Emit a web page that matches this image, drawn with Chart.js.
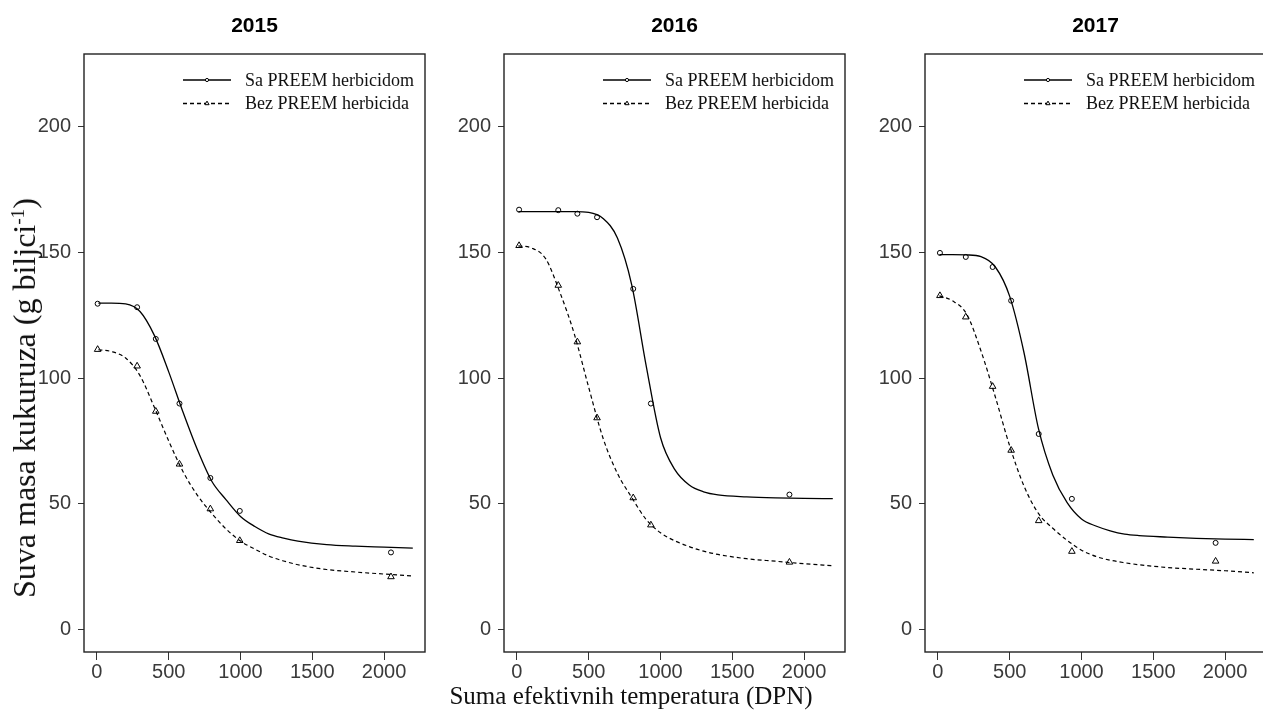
<!DOCTYPE html>
<html>
<head>
<meta charset="utf-8">
<script src="https://cdn.jsdelivr.net/npm/chart.js@4.4.1/dist/chart.umd.min.js"></script>
<style>
    html, body { margin: 0; padding: 0; background: #fff; overflow: hidden; }
    body { width: 1263px; height: 711px; position: relative; }
    .panel { position: absolute; top: 0; }
    .y-title {
        position: absolute; left: 24px; top: 398px;
        transform: translate(-50%, -50%) rotate(-90deg);
        white-space: nowrap; line-height: 1;
        font-family: "Liberation Serif", "Times New Roman", serif; font-size: 32px; color: #111;
    }
    .y-title sup { font-size: 60%; vertical-align: 0.55em; line-height: 0; }
    .x-title {
        position: absolute; left: 631px; top: 683px;
        transform: translateX(-50%);
        white-space: nowrap; line-height: 1;
        font-family: "Liberation Serif", "Times New Roman", serif; font-size: 25px; color: #111;
    }
</style>
</head>
<body>
<canvas class="panel" id="chart-2015" width="430" height="711" style="left:0px"></canvas>
<canvas class="panel" id="chart-2016" width="430" height="711" style="left:420px"></canvas>
<canvas class="panel" id="chart-2017" width="430" height="711" style="left:841px"></canvas>
<div class="y-title">Suva masa kukuruza (g biljci<sup>-1</sup>)</div>
<div class="x-title">Suma efektivnih temperatura (DPN)</div>
<script>
const years = ['2015', '2016', '2017'];
const seriesNames = ['Sa PREEM herbicidom', 'Bez PREEM herbicida'];
const xTicks = [0, 500, 1000, 1500, 2000];
const yTicks = [0, 50, 100, 150, 200];

// x positions of the fitted curves (same grid in every panel)
const fitX = [10, 100, 200, 300, 400, 500, 600, 700, 800, 900, 1000, 1100, 1200, 1300, 1400, 1600, 1800, 2000, 2200];

// 2015
const obsX2015 = [5, 280, 410, 575, 790, 995, 2048];
const saObs2015 = [129.6, 128.2, 115.6, 89.9, 60.3, 47.2, 30.7];
const bezObs2015 = [111.4, 104.8, 86.8, 65.8, 48.0, 35.4, 21.0];
const saFit2015 = [129.8, 129.8, 129.5, 126.5, 117.0, 102.5, 86.4, 71.5, 59.0, 51.6, 45.0, 41.0, 38.0, 36.4, 35.2, 33.8, 33.2, 32.8, 32.4];
const bezFit2015 = [111.3, 110.6, 108.0, 101.0, 88.4, 75.0, 62.8, 53.4, 46.2, 40.0, 35.2, 32.0, 29.2, 27.3, 25.8, 23.9, 22.9, 22.1, 21.3];

// 2016
const obsX2016 = [15, 288, 421, 558, 810, 933, 1898];
const saObs2016 = [167.0, 166.8, 165.4, 164.0, 135.5, 89.9, 53.7];
const bezObs2016 = [152.7, 136.9, 114.4, 84.2, 52.4, 41.6, 26.8];
const saFit2016 = [166.2, 166.2, 166.2, 166.2, 166.2, 165.9, 163.5, 155.7, 137.0, 105.0, 76.4, 63.6, 57.5, 54.8, 53.6, 52.8, 52.4, 52.2, 52.1];
const bezFit2016 = [152.6, 151.8, 147.5, 134.0, 117.5, 96.3, 76.1, 62.1, 52.5, 43.8, 38.5, 35.3, 33.0, 31.2, 29.9, 28.2, 27.2, 26.2, 25.4];

// 2017
const obsX2017 = [14, 194, 381, 510, 702, 933, 1934];
const saObs2017 = [149.8, 148.2, 144.2, 130.8, 77.8, 52.0, 34.5];
const bezObs2017 = [132.8, 124.3, 96.7, 71.3, 43.3, 31.1, 27.2];
const saFit2017 = [149.1, 149.1, 149.0, 148.3, 144.2, 132.5, 110.0, 80.0, 61.5, 50.5, 44.0, 41.2, 39.3, 38.0, 37.4, 36.8, 36.3, 36.0, 35.8];
const bezFit2017 = [132.7, 130.8, 125.5, 110.8, 92.5, 73.0, 57.0, 46.2, 40.3, 35.5, 31.6, 29.1, 27.6, 26.6, 25.8, 24.7, 24.0, 23.4, 22.6];

const tickFont = { family: '"Liberation Sans", Arial, sans-serif', size: 20 };
const tickColor = '#3a3a3a';
const axisColor = '#333';

// box around the plot, panel title and the in-panel legend
const panelFrame = {
    id: 'panelFrame',
    afterDraw(chart, args, opts) {
        const { ctx, chartArea: a } = chart;
        ctx.save();
        ctx.strokeStyle = '#222';
        ctx.lineWidth = 1.4;
        ctx.strokeRect(a.left, a.top, a.right - a.left, a.bottom - a.top);

        ctx.fillStyle = '#000';
        ctx.font = 'bold 21px "Liberation Sans", Arial, sans-serif';
        ctx.textAlign = 'center';
        ctx.textBaseline = 'middle';
        ctx.fillText(opts.title, (a.left + a.right) / 2, a.top - 28);

        ctx.font = '18px "Liberation Serif", "Times New Roman", serif';
        ctx.textAlign = 'left';
        const keys = [
            { dash: [], style: 'circle', radius: 1.6 },
            { dash: [4, 3], style: 'triangle', radius: 2.4 }
        ];
        seriesNames.forEach((name, i) => {
            const y = a.top + 26 + i * 23.5;
            const x0 = a.right - 242;
            ctx.strokeStyle = '#000';
            ctx.lineWidth = 1.5;
            ctx.setLineDash(keys[i].dash);
            ctx.beginPath();
            ctx.moveTo(x0, y);
            ctx.lineTo(x0 + 48, y);
            ctx.stroke();
            ctx.setLineDash([]);
            ctx.lineWidth = 1;
            ctx.fillStyle = '#fff';
            Chart.helpers.drawPoint(ctx, { pointStyle: keys[i].style, radius: keys[i].radius, borderWidth: 1, rotation: 0 }, x0 + 24, y);
            ctx.fillStyle = '#111';
            ctx.fillText(name, a.right - 180, y + 1);
        });
        ctx.restore();
    }
};

const toPoints = (xs, ys) => xs.map((x, i) => ({ x: x, y: ys[i] }));

function renderPanel(canvasId, year, obsX, saObs, bezObs, saFit, bezFit) {
    const canvasElement = document.getElementById(canvasId);

    new Chart(canvasElement, {
        type: 'line',
        data: {
            datasets: [
                {
                    label: seriesNames[0],
                    data: toPoints(fitX, saFit),
                    borderColor: '#000',
                    borderWidth: 1.3,
                    pointRadius: 0,
                    cubicInterpolationMode: 'monotone'
                },
                {
                    label: seriesNames[1],
                    data: toPoints(fitX, bezFit),
                    borderColor: '#000',
                    borderWidth: 1.2,
                    borderDash: [4, 3],
                    pointRadius: 0,
                    cubicInterpolationMode: 'monotone'
                },
                {
                    label: seriesNames[0] + ' (obs)',
                    data: toPoints(obsX, saObs),
                    showLine: false,
                    pointStyle: 'circle',
                    pointRadius: 2.5,
                    borderWidth: 1,
                    borderColor: '#000',
                    backgroundColor: 'rgba(0,0,0,0)'
                },
                {
                    label: seriesNames[1] + ' (obs)',
                    data: toPoints(obsX, bezObs),
                    showLine: false,
                    pointStyle: 'triangle',
                    pointRadius: 3.8,
                    borderWidth: 1,
                    borderColor: '#000',
                    backgroundColor: 'rgba(0,0,0,0)'
                }
            ]
        },
        options: {
            responsive: false,
            animation: false,
            events: [],
            layout: { padding: { top: 54, right: 2, bottom: 0, left: 0 } },
            plugins: {
                legend: { display: false },
                tooltip: { enabled: false },
                panelFrame: { title: year }
            },
            scales: {
                x: {
                    type: 'linear',
                    min: -90,
                    max: 2285,
                    afterBuildTicks: (scale) => { scale.ticks = xTicks.map((v) => ({ value: v })); },
                    afterFit: (scale) => { scale.height = 59; },
                    grid: { display: true, drawOnChartArea: false, drawTicks: true, tickLength: 8, color: axisColor, lineWidth: 1 },
                    border: { display: false },
                    ticks: { font: tickFont, color: tickColor, padding: 0, maxRotation: 0, autoSkip: false, callback: (value) => String(value) }
                },
                y: {
                    type: 'linear',
                    min: -8.9,
                    max: 228.9,
                    afterBuildTicks: (scale) => { scale.ticks = yTicks.map((v) => ({ value: v })); },
                    afterFit: (scale) => { scale.width = 84; },
                    grid: { display: true, drawOnChartArea: false, drawTicks: true, tickLength: 6, color: axisColor, lineWidth: 1 },
                    border: { display: false },
                    ticks: { font: tickFont, color: tickColor, padding: 7, callback: (value) => String(value) }
                }
            }
        },
        plugins: [panelFrame]
    });
}

renderPanel('chart-2015', years[0], obsX2015, saObs2015, bezObs2015, saFit2015, bezFit2015);
renderPanel('chart-2016', years[1], obsX2016, saObs2016, bezObs2016, saFit2016, bezFit2016);
renderPanel('chart-2017', years[2], obsX2017, saObs2017, bezObs2017, saFit2017, bezFit2017);
</script>
</body>
</html>
